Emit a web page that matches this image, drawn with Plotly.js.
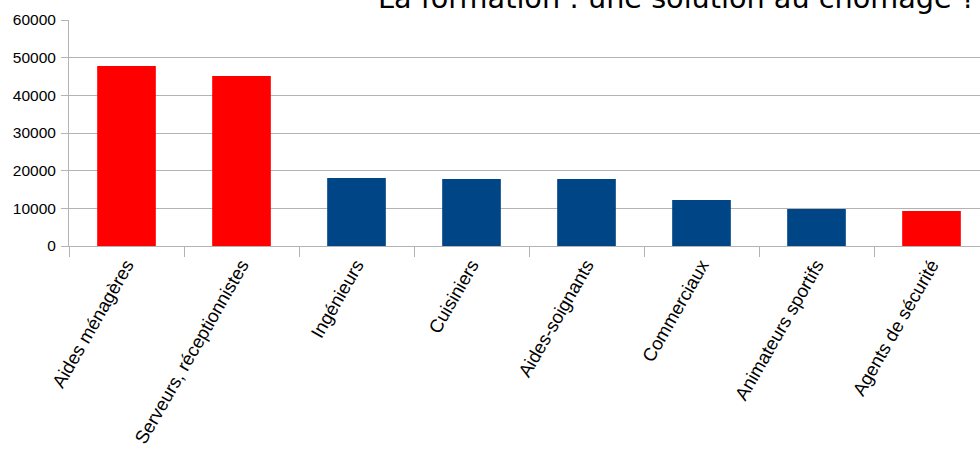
<!DOCTYPE html>
<html>
<head>
<meta charset="utf-8">
<script src="https://cdn.plot.ly/plotly-3.0.1.min.js"></script>
<style>html,body{margin:0;padding:0;background:#fff;overflow:hidden;width:980px;height:450px;}#chart{width:989px;height:450px;}</style>
</head>
<body>
<div id="chart"></div>
<script>
const categories = ["Aides ménagères", "Serveurs, réceptionnistes", "Ingénieurs", "Cuisiniers", "Aides-soignants", "Commerciaux", "Animateurs sportifs", "Agents de sécurité"];
const values = [47800, 45100, 18050, 17800, 17800, 12200, 9800, 9300];
const barColors = ["#ff0000", "#ff0000", "#004586", "#004586", "#004586", "#004586", "#004586", "#ff0000"];
const titleText = "La formation : une solution au chômage ?";

const trace = {
  type: "bar",
  x: categories,
  y: values,
  marker: {color: barColors, line: {width: 0}},
  hoverinfo: "x+y"
};

const layout = {
  width: 989,
  height: 450,
  margin: {l: 69, r: 0, t: 20, b: 204, pad: 0},
  paper_bgcolor: "#ffffff",
  plot_bgcolor: "#ffffff",
  showlegend: false,
  bargap: 0.49,
  font: {family: "Liberation Sans, Arial, sans-serif", size: 16, color: "#000000"},
  xaxis: {
    type: "category",
    tickangle: -60,
    ticks: "outside",
    tickson: "boundaries",
    ticklen: 10,
    tickcolor: "#b3b3b3",
    showline: true,
    linecolor: "#b3b3b3",
    linewidth: 1,
    showgrid: false,
    tickfont: {family: "Liberation Sans, Arial, sans-serif", size: 18.5, color: "#000000"}
  },
  yaxis: {
    range: [0, 60000],
    dtick: 10000,
    tick0: 0,
    ticks: "outside",
    ticklen: 7,
    tickcolor: "#b3b3b3",
    showline: true,
    linecolor: "#b3b3b3",
    linewidth: 1,
    showgrid: true,
    gridcolor: "#b3b3b3",
    gridwidth: 1,
    zeroline: false,
    tickformat: "d",
    ticklabelstandoff: 2,
    tickfont: {family: "Liberation Sans, Arial, sans-serif", size: 15.5, color: "#000000"}
  },
  annotations: [{
    text: titleText,
    xref: "paper", yref: "paper",
    x: 1, y: 1,
    xanchor: "right", yanchor: "bottom",
    yshift: 3,
    xshift: -11,
    showarrow: false,
    font: {family: "DejaVu Sans, sans-serif", size: 28.7, color: "#000000"}
  }]
};

Plotly.newPlot("chart", [trace], layout, {displayModeBar: false, staticPlot: true});
</script>
</body>
</html>
